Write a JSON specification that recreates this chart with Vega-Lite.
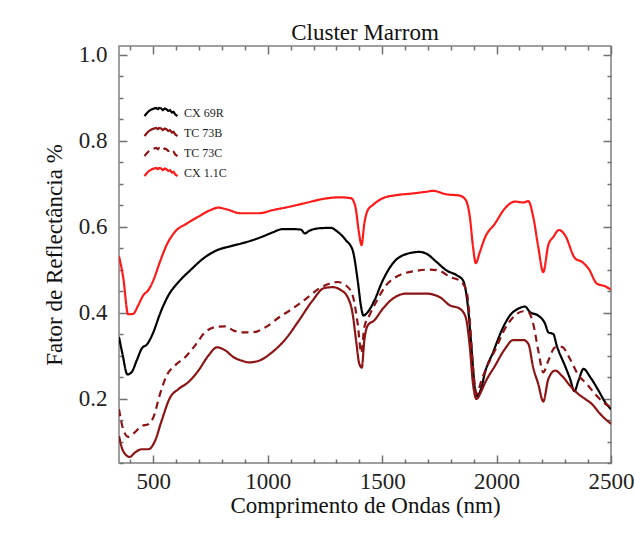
{
"$schema":"https://vega.github.io/schema/vega-lite/v6.json",
"width":492,"height":417,
"autosize":{"type":"none"},
"padding":{"left":119,"top":46,"right":24,"bottom":75},
"background":"white",
"title":{"text":"Cluster Marrom","font":"Liberation Serif","fontSize":23,"fontWeight":"normal","color":"#111","anchor":"middle","offset":-1},
"config":{"view":{"stroke":"#808080","strokeWidth":1.5},"axis":{"grid":false,"domain":false,"tickColor":"#707070","tickWidth":1.5,"labelFont":"Liberation Serif","labelFontSize":23,"labelColor":"#222","titleFont":"Liberation Serif","titleFontSize":23,"titleFontWeight":"normal","titleColor":"#111"}},
"data":{"values":[
{"s":"CX 69R","w":350,"r":0.343},{"s":"CX 69R","w":365,"r":0.304},{"s":"CX 69R","w":387,"r":0.256},{"s":"CX 69R","w":405,"r":0.261},{"s":"CX 69R","w":427,"r":0.288},{"s":"CX 69R","w":449,"r":0.316},{"s":"CX 69R","w":474,"r":0.327},{"s":"CX 69R","w":500,"r":0.354},{"s":"CX 69R","w":529,"r":0.397},{"s":"CX 69R","w":566,"r":0.44},{"s":"CX 69R","w":610,"r":0.471},{"s":"CX 69R","w":661,"r":0.498},{"s":"CX 69R","w":719,"r":0.526},{"s":"CX 69R","w":778,"r":0.545},{"s":"CX 69R","w":836,"r":0.554},{"s":"CX 69R","w":887,"r":0.561},{"s":"CX 69R","w":932,"r":0.568},{"s":"CX 69R","w":969,"r":0.575},{"s":"CX 69R","w":1020,"r":0.586},{"s":"CX 69R","w":1064,"r":0.594},{"s":"CX 69R","w":1108,"r":0.594},{"s":"CX 69R","w":1145,"r":0.593},{"s":"CX 69R","w":1162,"r":0.584},{"s":"CX 69R","w":1181,"r":0.59},{"s":"CX 69R","w":1225,"r":0.596},{"s":"CX 69R","w":1276,"r":0.597},{"s":"CX 69R","w":1305,"r":0.588},{"s":"CX 69R","w":1342,"r":0.568},{"s":"CX 69R","w":1371,"r":0.545},{"s":"CX 69R","w":1393,"r":0.475},{"s":"CX 69R","w":1408,"r":0.413},{"s":"CX 69R","w":1418,"r":0.393},{"s":"CX 69R","w":1437,"r":0.401},{"s":"CX 69R","w":1466,"r":0.428},{"s":"CX 69R","w":1503,"r":0.475},{"s":"CX 69R","w":1546,"r":0.514},{"s":"CX 69R","w":1605,"r":0.536},{"s":"CX 69R","w":1664,"r":0.541},{"s":"CX 69R","w":1693,"r":0.537},{"s":"CX 69R","w":1737,"r":0.518},{"s":"CX 69R","w":1781,"r":0.498},{"s":"CX 69R","w":1825,"r":0.487},{"s":"CX 69R","w":1853,"r":0.475},{"s":"CX 69R","w":1875,"r":0.413},{"s":"CX 69R","w":1890,"r":0.32},{"s":"CX 69R","w":1905,"r":0.226},{"s":"CX 69R","w":1915,"r":0.206},{"s":"CX 69R","w":1934,"r":0.226},{"s":"CX 69R","w":1949,"r":0.26},{"s":"CX 69R","w":1985,"r":0.308},{"s":"CX 69R","w":2022,"r":0.358},{"s":"CX 69R","w":2058,"r":0.393},{"s":"CX 69R","w":2095,"r":0.409},{"s":"CX 69R","w":2124,"r":0.414},{"s":"CX 69R","w":2146,"r":0.401},{"s":"CX 69R","w":2182,"r":0.393},{"s":"CX 69R","w":2212,"r":0.374},{"s":"CX 69R","w":2226,"r":0.354},{"s":"CX 69R","w":2248,"r":0.35},{"s":"CX 69R","w":2263,"r":0.323},{"s":"CX 69R","w":2299,"r":0.276},{"s":"CX 69R","w":2321,"r":0.246},{"s":"CX 69R","w":2340,"r":0.217},{"s":"CX 69R","w":2358,"r":0.242},{"s":"CX 69R","w":2380,"r":0.269},{"s":"CX 69R","w":2409,"r":0.25},{"s":"CX 69R","w":2446,"r":0.218},{"s":"CX 69R","w":2475,"r":0.191},{"s":"CX 69R","w":2500,"r":0.175},
{"s":"TC 73B","w":350,"r":0.113},{"s":"TC 73B","w":368,"r":0.078},{"s":"TC 73B","w":397,"r":0.064},{"s":"TC 73B","w":419,"r":0.074},{"s":"TC 73B","w":449,"r":0.082},{"s":"TC 73B","w":478,"r":0.082},{"s":"TC 73B","w":507,"r":0.101},{"s":"TC 73B","w":536,"r":0.148},{"s":"TC 73B","w":573,"r":0.202},{"s":"TC 73B","w":610,"r":0.222},{"s":"TC 73B","w":653,"r":0.238},{"s":"TC 73B","w":697,"r":0.265},{"s":"TC 73B","w":741,"r":0.3},{"s":"TC 73B","w":778,"r":0.319},{"s":"TC 73B","w":814,"r":0.312},{"s":"TC 73B","w":851,"r":0.296},{"s":"TC 73B","w":887,"r":0.288},{"s":"TC 73B","w":918,"r":0.284},{"s":"TC 73B","w":962,"r":0.288},{"s":"TC 73B","w":1020,"r":0.308},{"s":"TC 73B","w":1079,"r":0.339},{"s":"TC 73B","w":1137,"r":0.382},{"s":"TC 73B","w":1196,"r":0.428},{"s":"TC 73B","w":1247,"r":0.457},{"s":"TC 73B","w":1283,"r":0.459},{"s":"TC 73B","w":1320,"r":0.452},{"s":"TC 73B","w":1349,"r":0.436},{"s":"TC 73B","w":1371,"r":0.397},{"s":"TC 73B","w":1386,"r":0.335},{"s":"TC 73B","w":1400,"r":0.281},{"s":"TC 73B","w":1411,"r":0.272},{"s":"TC 73B","w":1422,"r":0.335},{"s":"TC 73B","w":1437,"r":0.37},{"s":"TC 73B","w":1466,"r":0.382},{"s":"TC 73B","w":1503,"r":0.409},{"s":"TC 73B","w":1546,"r":0.432},{"s":"TC 73B","w":1605,"r":0.444},{"s":"TC 73B","w":1693,"r":0.444},{"s":"TC 73B","w":1751,"r":0.436},{"s":"TC 73B","w":1795,"r":0.417},{"s":"TC 73B","w":1839,"r":0.409},{"s":"TC 73B","w":1865,"r":0.389},{"s":"TC 73B","w":1883,"r":0.32},{"s":"TC 73B","w":1897,"r":0.234},{"s":"TC 73B","w":1912,"r":0.199},{"s":"TC 73B","w":1934,"r":0.218},{"s":"TC 73B","w":1949,"r":0.236},{"s":"TC 73B","w":1993,"r":0.276},{"s":"TC 73B","w":2036,"r":0.315},{"s":"TC 73B","w":2073,"r":0.336},{"s":"TC 73B","w":2117,"r":0.336},{"s":"TC 73B","w":2139,"r":0.327},{"s":"TC 73B","w":2160,"r":0.272},{"s":"TC 73B","w":2182,"r":0.234},{"s":"TC 73B","w":2204,"r":0.193},{"s":"TC 73B","w":2226,"r":0.245},{"s":"TC 73B","w":2256,"r":0.265},{"s":"TC 73B","w":2285,"r":0.253},{"s":"TC 73B","w":2321,"r":0.23},{"s":"TC 73B","w":2358,"r":0.21},{"s":"TC 73B","w":2387,"r":0.199},{"s":"TC 73B","w":2417,"r":0.187},{"s":"TC 73B","w":2453,"r":0.164},{"s":"TC 73B","w":2500,"r":0.141},
{"s":"TC 73C","w":350,"r":0.175},{"s":"TC 73C","w":368,"r":0.129},{"s":"TC 73C","w":390,"r":0.111},{"s":"TC 73C","w":419,"r":0.121},{"s":"TC 73C","w":449,"r":0.136},{"s":"TC 73C","w":478,"r":0.14},{"s":"TC 73C","w":500,"r":0.156},{"s":"TC 73C","w":529,"r":0.21},{"s":"TC 73C","w":558,"r":0.253},{"s":"TC 73C","w":595,"r":0.277},{"s":"TC 73C","w":639,"r":0.296},{"s":"TC 73C","w":682,"r":0.323},{"s":"TC 73C","w":726,"r":0.354},{"s":"TC 73C","w":770,"r":0.366},{"s":"TC 73C","w":814,"r":0.368},{"s":"TC 73C","w":851,"r":0.358},{"s":"TC 73C","w":887,"r":0.354},{"s":"TC 73C","w":932,"r":0.354},{"s":"TC 73C","w":991,"r":0.366},{"s":"TC 73C","w":1050,"r":0.389},{"s":"TC 73C","w":1108,"r":0.409},{"s":"TC 73C","w":1167,"r":0.432},{"s":"TC 73C","w":1225,"r":0.456},{"s":"TC 73C","w":1269,"r":0.467},{"s":"TC 73C","w":1305,"r":0.471},{"s":"TC 73C","w":1342,"r":0.463},{"s":"TC 73C","w":1371,"r":0.44},{"s":"TC 73C","w":1393,"r":0.374},{"s":"TC 73C","w":1409,"r":0.306},{"s":"TC 73C","w":1422,"r":0.366},{"s":"TC 73C","w":1444,"r":0.393},{"s":"TC 73C","w":1473,"r":0.424},{"s":"TC 73C","w":1517,"r":0.463},{"s":"TC 73C","w":1576,"r":0.487},{"s":"TC 73C","w":1649,"r":0.497},{"s":"TC 73C","w":1708,"r":0.5},{"s":"TC 73C","w":1751,"r":0.497},{"s":"TC 73C","w":1795,"r":0.483},{"s":"TC 73C","w":1839,"r":0.474},{"s":"TC 73C","w":1868,"r":0.452},{"s":"TC 73C","w":1883,"r":0.382},{"s":"TC 73C","w":1897,"r":0.272},{"s":"TC 73C","w":1912,"r":0.21},{"s":"TC 73C","w":1934,"r":0.242},{"s":"TC 73C","w":1949,"r":0.263},{"s":"TC 73C","w":1993,"r":0.312},{"s":"TC 73C","w":2036,"r":0.362},{"s":"TC 73C","w":2080,"r":0.393},{"s":"TC 73C","w":2117,"r":0.403},{"s":"TC 73C","w":2139,"r":0.401},{"s":"TC 73C","w":2160,"r":0.374},{"s":"TC 73C","w":2182,"r":0.312},{"s":"TC 73C","w":2204,"r":0.261},{"s":"TC 73C","w":2226,"r":0.288},{"s":"TC 73C","w":2256,"r":0.319},{"s":"TC 73C","w":2285,"r":0.32},{"s":"TC 73C","w":2321,"r":0.292},{"s":"TC 73C","w":2358,"r":0.254},{"s":"TC 73C","w":2394,"r":0.234},{"s":"TC 73C","w":2431,"r":0.21},{"s":"TC 73C","w":2467,"r":0.191},{"s":"TC 73C","w":2500,"r":0.179},
{"s":"CX 1.1C","w":350,"r":0.531},{"s":"CX 1.1C","w":368,"r":0.483},{"s":"CX 1.1C","w":390,"r":0.396},{"s":"CX 1.1C","w":412,"r":0.397},{"s":"CX 1.1C","w":434,"r":0.417},{"s":"CX 1.1C","w":456,"r":0.44},{"s":"CX 1.1C","w":478,"r":0.452},{"s":"CX 1.1C","w":500,"r":0.475},{"s":"CX 1.1C","w":529,"r":0.518},{"s":"CX 1.1C","w":558,"r":0.557},{"s":"CX 1.1C","w":595,"r":0.588},{"s":"CX 1.1C","w":646,"r":0.607},{"s":"CX 1.1C","w":697,"r":0.623},{"s":"CX 1.1C","w":748,"r":0.638},{"s":"CX 1.1C","w":785,"r":0.644},{"s":"CX 1.1C","w":821,"r":0.64},{"s":"CX 1.1C","w":880,"r":0.631},{"s":"CX 1.1C","w":962,"r":0.631},{"s":"CX 1.1C","w":1020,"r":0.638},{"s":"CX 1.1C","w":1093,"r":0.646},{"s":"CX 1.1C","w":1167,"r":0.655},{"s":"CX 1.1C","w":1239,"r":0.664},{"s":"CX 1.1C","w":1313,"r":0.668},{"s":"CX 1.1C","w":1364,"r":0.666},{"s":"CX 1.1C","w":1383,"r":0.646},{"s":"CX 1.1C","w":1397,"r":0.592},{"s":"CX 1.1C","w":1410,"r":0.557},{"s":"CX 1.1C","w":1422,"r":0.607},{"s":"CX 1.1C","w":1437,"r":0.638},{"s":"CX 1.1C","w":1459,"r":0.65},{"s":"CX 1.1C","w":1503,"r":0.666},{"s":"CX 1.1C","w":1561,"r":0.673},{"s":"CX 1.1C","w":1634,"r":0.677},{"s":"CX 1.1C","w":1693,"r":0.681},{"s":"CX 1.1C","w":1722,"r":0.683},{"s":"CX 1.1C","w":1781,"r":0.675},{"s":"CX 1.1C","w":1839,"r":0.672},{"s":"CX 1.1C","w":1865,"r":0.662},{"s":"CX 1.1C","w":1883,"r":0.623},{"s":"CX 1.1C","w":1897,"r":0.553},{"s":"CX 1.1C","w":1909,"r":0.515},{"s":"CX 1.1C","w":1927,"r":0.541},{"s":"CX 1.1C","w":1949,"r":0.574},{"s":"CX 1.1C","w":1993,"r":0.607},{"s":"CX 1.1C","w":2036,"r":0.642},{"s":"CX 1.1C","w":2080,"r":0.658},{"s":"CX 1.1C","w":2117,"r":0.656},{"s":"CX 1.1C","w":2139,"r":0.659},{"s":"CX 1.1C","w":2160,"r":0.623},{"s":"CX 1.1C","w":2182,"r":0.553},{"s":"CX 1.1C","w":2204,"r":0.494},{"s":"CX 1.1C","w":2226,"r":0.557},{"s":"CX 1.1C","w":2248,"r":0.576},{"s":"CX 1.1C","w":2273,"r":0.592},{"s":"CX 1.1C","w":2299,"r":0.58},{"s":"CX 1.1C","w":2343,"r":0.526},{"s":"CX 1.1C","w":2373,"r":0.518},{"s":"CX 1.1C","w":2402,"r":0.502},{"s":"CX 1.1C","w":2439,"r":0.467},{"s":"CX 1.1C","w":2475,"r":0.461},{"s":"CX 1.1C","w":2500,"r":0.453}
]},
"resolve":{"axis":{"x":"independent","y":"independent"}},
"layer":[
{"mark":{"type":"line","strokeWidth":2.2,"interpolate":"monotone","clip":true},
 "encoding":{
  "x":{"field":"w","type":"quantitative","scale":{"domain":[350,2500],"nice":false,"zero":false},
       "axis":{"orient":"bottom","values":[500,1000,1500,2000,2500],"format":"d","tickSize":-8,"labelPadding":15,"title":"Comprimento de Ondas (nm)","titlePadding":1,"labelFlush":false}},
  "y":{"field":"r","type":"quantitative","scale":{"domain":[0.05,1.02],"nice":false,"zero":false},
       "axis":{"orient":"left","values":[0.2,0.4,0.6,0.8,1.0],"format":".1f","tickSize":-8,"labelPadding":20,"title":"Fator de Reflectância %","titlePadding":12}},
  "color":{"field":"s","type":"nominal","scale":{"domain":["CX 69R","TC 73B","TC 73C","CX 1.1C"],"range":["#000000","#8c1414","#8c1414","#ff1a1a"]},
     "legend":{"orient":"none","legendX":34.5,"legendY":59,"title":null,"padding":0,"symbolType":"M-2.75,0.6 L-2.4,0.15 L-2.0,-0.25 L-1.6,-0.5 L-1.2,-0.65 L-0.8,-0.75 L-0.5,-0.55 L-0.3,-0.75 L0,-0.7 L0.3,-0.4 L0.6,-0.65 L0.9,-0.55 L1.2,-0.25 L1.5,-0.4 L1.8,0 L2.1,-0.1 L2.4,0.35 L2.75,0.6","symbolSize":144,"symbolStrokeWidth":2.2,"symbolFillColor":"transparent","labelFont":"Liberation Serif","labelFontSize":12,"labelColor":"#222","labelOffset":15.5,"rowPadding":2}},
  "strokeDash":{"field":"s","type":"nominal","scale":{"domain":["CX 69R","TC 73B","TC 73C","CX 1.1C"],"range":[[1,0],[1,0],[7,5],[1,0]]},
     "legend":{"orient":"none","legendX":34.5,"legendY":59,"title":null,"padding":0,"symbolType":"M-2.75,0.6 L-2.4,0.15 L-2.0,-0.25 L-1.6,-0.5 L-1.2,-0.65 L-0.8,-0.75 L-0.5,-0.55 L-0.3,-0.75 L0,-0.7 L0.3,-0.4 L0.6,-0.65 L0.9,-0.55 L1.2,-0.25 L1.5,-0.4 L1.8,0 L2.1,-0.1 L2.4,0.35 L2.75,0.6","symbolSize":144,"symbolStrokeWidth":2.2,"symbolFillColor":"transparent","labelFont":"Liberation Serif","labelFontSize":12,"labelColor":"#222","labelOffset":15.5,"rowPadding":2}}
 }},
{"mark":{"type":"line","opacity":0},
 "encoding":{
  "x":{"field":"w","type":"quantitative","axis":{"orient":"bottom","values":[400,600,700,800,900,1100,1200,1300,1400,1600,1700,1800,1900,2100,2200,2300,2400],"tickSize":-4,"labels":false,"title":null}},
  "y":{"field":"r","type":"quantitative","axis":{"orient":"left","values":[0.05,0.1,0.15,0.25,0.3,0.35,0.45,0.5,0.55,0.65,0.7,0.75,0.85,0.9,0.95],"tickSize":-4,"labels":false,"title":null}},
  "detail":{"field":"s"}
 }},
{"mark":{"type":"line","opacity":0},
 "encoding":{
  "x":{"field":"w","type":"quantitative","axis":{"orient":"top","values":[500,1000,1500,2000,2500],"tickSize":-8,"labels":false,"title":null}},
  "y":{"field":"r","type":"quantitative","axis":{"orient":"right","values":[0.2,0.4,0.6,0.8,1.0],"tickSize":-8,"labels":false,"title":null}},
  "detail":{"field":"s"}
 }},
{"mark":{"type":"line","opacity":0},
 "encoding":{
  "x":{"field":"w","type":"quantitative","axis":{"orient":"top","values":[400,600,700,800,900,1100,1200,1300,1400,1600,1700,1800,1900,2100,2200,2300,2400],"tickSize":-4,"labels":false,"title":null}},
  "y":{"field":"r","type":"quantitative","axis":{"orient":"right","values":[0.05,0.1,0.15,0.25,0.3,0.35,0.45,0.5,0.55,0.65,0.7,0.75,0.85,0.9,0.95],"tickSize":-4,"labels":false,"title":null}},
  "detail":{"field":"s"}
 }}
]
}
